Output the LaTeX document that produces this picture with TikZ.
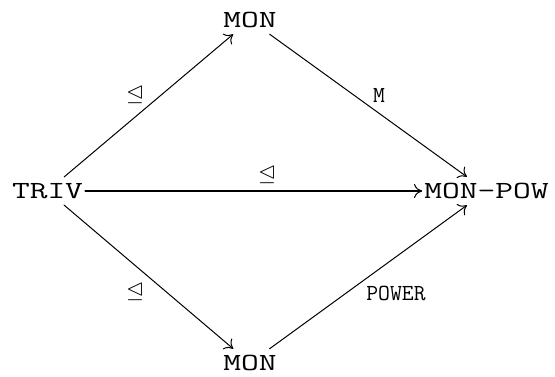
\documentclass[tikz,border=0pt]{standalone}
\usepackage{amssymb}
\usepackage{fontspec}
\usepackage{graphicx}
\usetikzlibrary{arrows.meta}
\newcommand{\objtext}[1]{\scalebox{1.4}[1]{\fontsize{12.3}{14}\selectfont\ttfamily #1}}

\begin{document}
\begin{tikzpicture}[x=0.5pt,y=-0.5pt,line cap=round,line join=round,
  >={To[length=4pt,width=7pt,line width=0.5pt]},
  obj/.style={inner xsep=1pt,inner ysep=3pt},
  lab/.style={inner sep=1pt,font=\fontsize{11.5}{13}\selectfont\ttfamily},
  arr/.style={->,line width=0.5pt}]
  \useasboundingbox (0,0) rectangle (555,376);
  % objects
  \node[obj] (triv) at (47.5,191) {\objtext{TRIV}};
  \node[obj] (montop) at (250,20) {\objtext{MON}};
  \node[obj] (monbot) at (250,363) {\objtext{MON}};
  \node[obj] (monpow) at (486.5,191) {\objtext{MON-POW}};
  % morphisms
  \draw[arr] (triv) -- (montop);
  \draw[arr] (montop) -- (monpow);
  \draw[arr] (triv) -- (monbot);
  \draw[arr] (monbot) -- (monpow);
  \draw[arr,line width=1.1pt] (triv) -- (monpow);
  % labels
  \node[lab] (subup) at (135,95) {$\unlhd$};
  \node[lab] (submid) at (267,175) {$\unlhd$};
  \node[lab] (subdown) at (135,292) {$\unlhd$};
  \node[lab] (labm) at (379,95) {M};
  \node[lab] (labpower) at (396,293) {POWER};
\end{tikzpicture}
\end{document}
